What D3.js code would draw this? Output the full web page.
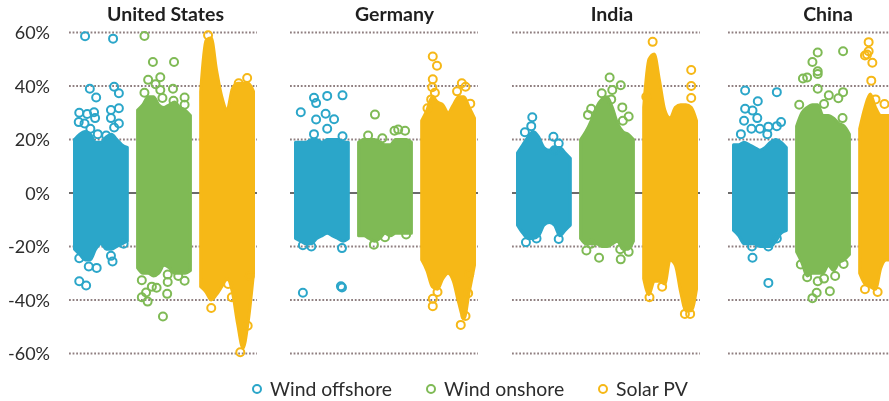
<!DOCTYPE html>
<html><head><meta charset="utf-8">
<script src="https://cdn.jsdelivr.net/npm/d3@7/dist/d3.min.js"></script>
<style>html,body{margin:0;padding:0;background:#fff;overflow:hidden}svg{display:block;filter:blur(0.35px)}text{font-family:Lato,"Open Sans",sans-serif;fill:#2c2c2c}</style>
</head><body><svg id="c" width="889" height="401"></svg>
<script>
const countries = ["United States","Germany","India","China"];
const techs = ["Wind offshore","Wind onshore","Solar PV"];
const colors = ["#2ba6c9","#7fba55","#f6b817"];
const yTicks = [60,40,20,0,-20,-40,-60];

// Solid body of each strip: upper and lower limit (%) at evenly spaced positions across the strip
// Individually visible points: [position across strip 0..1, value %]
const usOffshoreTop = [20,22,23,22,19,19,21,22,20,18,17];
const usOffshoreBottom = [-21,-23,-25,-25,-21,-19,-21,-21,-20,-19,-18];
const usOffshoreRings = [[.2,58.6],[.73,57.7],[.29,39],[.41,35.7],[.75,39.7],[.84,37.3],[.09,30],[.24,29.5],[.37,30.2],[.69,31],[.84,31.7],[.08,26.5],[.19,26],[.39,28],[.69,28],[.84,26],[.3,24],[.75,24.5],[.6,21.5],[.44,22],[.09,-33],[.22,-34.6],[.09,-24.4],[.42,-28],[.27,-27.5],[.69,-23.5],[.72,-25.6],[.93,-19]];
const usOnshoreTop = [31,33,36,36,33,32,33,34,32,31,29];
const usOnshoreBottom = [-28,-30,-30,-31,-30,-27,-28,-30,-30,-30,-29];
const usOnshoreRings = [[.13,58.7],[.29,49],[.69,49],[.2,42.3],[.43,43.3],[.34,40.7],[.67,39],[.13,37.5],[.89,35.7],[.89,33],[.68,34.5],[.47,35.5],[.43,38.5],[.08,-32.6],[.48,-46.2],[.08,-39],[.19,-40.6],[.16,-37.2],[.27,-35],[.36,-35.4],[.56,-37.7],[.57,-33.3],[.57,-30.5],[.89,-32.8],[.77,-31]];
const usSolarTop = [38,57,58,46,36,31,39,41,41,41,38];
const usSolarBottom = [-35,-37,-40,-38,-35,-32,-37,-49,-58,-48,-30];
const usSolarRings = [[.2,-43],[.75,-59.5],[.89,-49.6],[.93,-31],[.52,-34],[.59,-39],[.88,43],[.72,41],[.14,59]];

const deOffshoreTop = [19,19,19,20,20,19,20,20,20,19,19];
const deOffshoreBottom = [-17,-18,-19,-19,-17,-16,-15,-16,-17,-18,-17];
const deOffshoreRings = [[.1,30.2],[.35,35.6],[.39,33.6],[.6,36.3],[.89,36.5],[.39,27.5],[.57,29.6],[.73,27.6],[.6,24],[.35,22],[.89,21.2],[.14,-37.3],[.88,-35.3],[.86,-34.9],[.88,-20.6],[.14,-19.5],[.3,-20]];
const deOnshoreTop = [19,20,20,20,19,18,18,20,20,20,19];
const deOnshoreBottom = [-16,-16,-17,-18,-17,-15,-16,-15,-15,-15,-15];
const deOnshoreRings = [[.31,29.3],[.18,21.5],[.68,23.3],[.88,23.3],[.75,23.7],[.45,20.5],[.29,-19.3],[.5,-16.5],[.9,-15.5]];
const deSolarTop = [27,31,36,34,33,30,33,36,36,32,28];
const deSolarBottom = [-25,-29,-35,-36,-32,-30,-33,-41,-47,-37,-27];
const deSolarRings = [[.21,51],[.29,47.6],[.21,42.5],[.2,39.5],[.25,37.5],[.76,41],[.83,39.7],[.67,38],[.92,33.4],[.11,31.7],[.18,35],[.21,-42.3],[.21,-39.5],[.74,-49.3],[.83,-46],[.3,-37],[.9,-30.4],[.88,-37.5]];

const inOffshoreTop = [15,18,21,23,21,17,16,17,17,15,13];
const inOffshoreBottom = [-12,-15,-17,-17,-16,-12,-11,-12,-16,-14,-12];
const inOffshoreRings = [[.28,28.3],[.26,25],[.14,22.7],[.68,21],[.78,18.5],[.7,16],[.16,-18.4],[.36,-17],[.78,-17.2]];
const inOnshoreTop = [20,23,27,32,35,36,32,26,23,22,20];
const inOnshoreBottom = [-17,-19,-19,-19,-20,-20,-19,-18,-21,-21,-18];
const inOnshoreRings = [[.55,43.2],[.76,40.3],[.4,37.3],[.6,38.5],[.2,31.5],[.14,29.2],[.79,32],[.91,28.6],[.8,27],[.58,35],[.11,-21.5],[.35,-24.2],[.76,-24.8],[.91,-22],[.2,-19],[.75,-21]];
const inSolarTop = [32,50,52,42,31,28,32,33,33,32,27];
const inSolarBottom = [-32,-38,-33,-33,-34,-25,-27,-37,-44,-44,-36];
const inSolarRings = [[.17,56.5],[.9,46],[.9,40],[.9,35.5],[.05,36],[.11,-39],[.78,-45.2],[.88,-45.2],[.35,-35]];

const cnOffshoreTop = [18,18,19,18,17,16,17,19,20,19,17];
const cnOffshoreBottom = [-14,-16,-19,-19,-19,-20,-20,-20,-18,-15,-14];
const cnOffshoreRings = [[.22,38.3],[.82,37.7],[.46,34.3],[.36,30.8],[.22,31.5],[.45,28],[.2,27],[.9,26.5],[.82,25],[.66,24.8],[.34,24],[.5,24],[.64,22],[.14,22],[.36,-24.2],[.66,-33.6],[.82,-17],[.35,-20],[.66,-20]];
const cnOnshoreTop = [25,30,32,33,33,29,29,28,26,25,22];
const cnOnshoreBottom = [-22,-26,-31,-30,-30,-30,-27,-29,-26,-25,-23];
const cnOnshoreRings = [[.4,52.5],[.88,53],[.3,49],[.4,45.5],[.4,44.5],[.12,42.8],[.2,43.2],[.4,39],[.88,37.7],[.61,36.5],[.79,35.4],[.52,33.3],[.87,28],[.05,33],[.3,-39.3],[.38,-37.3],[.63,-36.7],[.2,-31.5],[.4,-33],[.52,-32],[.73,-31],[.89,-26.5],[.08,-26.7]];
const cnSolarTop = [24,32,37,32,29,29,29,29,29,29,24];
const cnSolarBottom = [-30,-34,-35,-36,-28,-25,-25,-25,-25,-25,-22];
const cnSolarRings = [[.17,56.4],[.17,53],[.1,51.4],[.14,51.8],[.24,48.7],[.22,42],[.47,33.3],[.3,35],[.34,-37],[.1,-36]];

const tops = [[usOffshoreTop,usOnshoreTop,usSolarTop],[deOffshoreTop,deOnshoreTop,deSolarTop],[inOffshoreTop,inOnshoreTop,inSolarTop],[cnOffshoreTop,cnOnshoreTop,cnSolarTop]];
const bottoms = [[usOffshoreBottom,usOnshoreBottom,usSolarBottom],[deOffshoreBottom,deOnshoreBottom,deSolarBottom],[inOffshoreBottom,inOnshoreBottom,inSolarBottom],[cnOffshoreBottom,cnOnshoreBottom,cnSolarBottom]];
const rings = [[usOffshoreRings,usOnshoreRings,usSolarRings],[deOffshoreRings,deOnshoreRings,deSolarRings],[inOffshoreRings,inOnshoreRings,inSolarRings],[cnOffshoreRings,cnOnshoreRings,cnSolarRings]];

const svg = d3.select("#c");
const y = d3.scaleLinear().domain([-60,60]).range([353.5,32.5]);
const panelX = d3.scaleOrdinal(countries,[69,290,512,728]);
const titleX = d3.scaleOrdinal(countries,[165.5,394.5,612,828]);
const panelW = 188;
const techX = d3.scaleBand(techs,[4,186]).paddingInner(0.115);
const color = d3.scaleOrdinal(techs,colors);

// y axis
const axis = svg.append("g").attr("transform","translate(50,0)")
  .call(d3.axisLeft(y).tickValues(yTicks).tickSize(0).tickPadding(0).tickFormat(d=>d+"%"));
axis.select(".domain").remove();
axis.selectAll("text").attr("font-size",18).style("font-family","Lato,'Open Sans',sans-serif").attr("dy","0.35em");

countries.forEach((c,ci)=>{
  const g = svg.append("g").attr("transform",`translate(${panelX(c)},0)`);
  g.selectAll("line.grid").data(yTicks).join("line").attr("class","grid")
    .attr("x1",0).attr("x2",panelW).attr("y1",y).attr("y2",y)
    .attr("stroke",d=>d===0?"#3a3a3a":"#8f7f80")
    .attr("stroke-width",d=>d===0?1.6:1.8)
    .attr("stroke-dasharray",d=>d===0?null:"1.8 1.8");
  techs.forEach((t,ti)=>{
    const x = d3.scaleLinear().domain([0,1]).range([techX(t)+1.5,techX(t)+techX.bandwidth()-1.5]);
    const top = tops[ci][ti], bot = bottoms[ci][ti];
    const area = d3.area().curve(d3.curveMonotoneX)
      .x((d,i)=>x(i/(top.length-1))).y0((d,i)=>y(bot[i])).y1(d=>y(d));
    g.append("path").attr("d",area(top)).attr("fill",color(t)).attr("stroke",color(t))
      .attr("stroke-width",3).attr("stroke-linejoin","round");
    g.selectAll(null).data(rings[ci][ti]).join("circle")
      .attr("cx",d=>x(d[0])).attr("cy",d=>y(d[1])).attr("r",4)
      .attr("fill","none").attr("stroke",color(t)).attr("stroke-width",2);
  });
  svg.append("text").attr("x",titleX(c)).attr("y",21).attr("text-anchor","middle")
    .attr("font-size",19.5).attr("font-weight",700).style("fill","#1f1f1f").text(c);
});

// legend
const legendX = d3.scaleOrdinal(techs,[257,431,603]);
const leg = svg.append("g").selectAll("g").data(techs).join("g")
  .attr("transform",d=>`translate(${legendX(d)},389)`);
leg.append("circle").attr("r",4).attr("fill","none").attr("stroke-width",2).attr("stroke",d=>color(d));
leg.append("text").attr("x",13).attr("dy","0.35em").attr("font-size",19.4).text(d=>d);
</script></body></html>
